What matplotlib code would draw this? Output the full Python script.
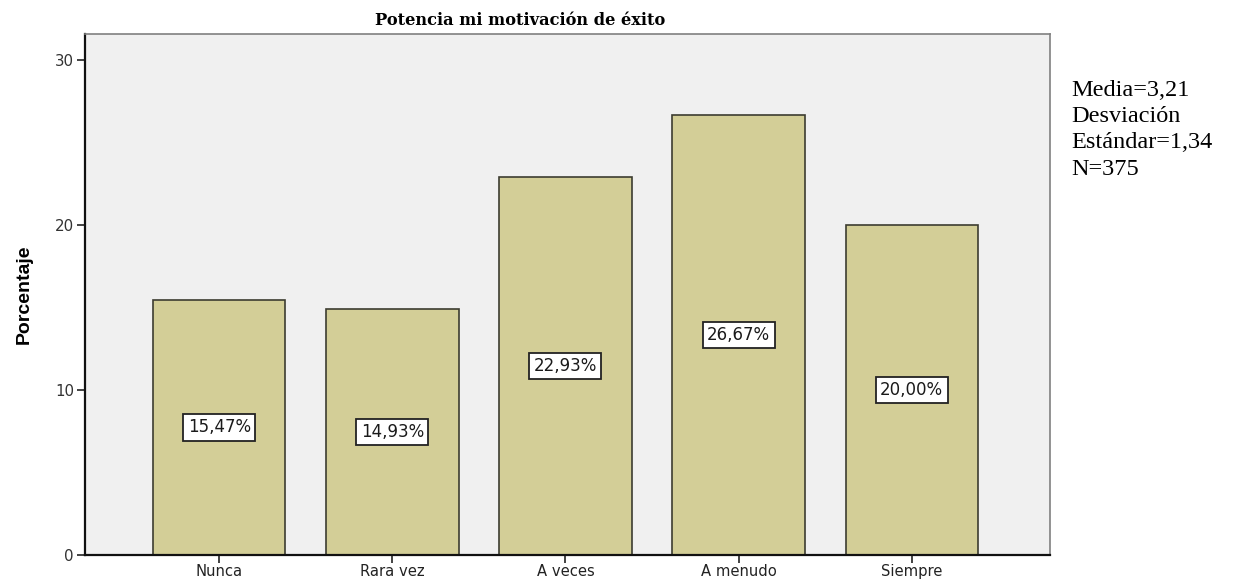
import matplotlib
matplotlib.use("Agg")
import matplotlib.pyplot as plt

categories = ["Nunca", "Rara vez", "A veces", "A menudo", "Siempre"]
percentages = [15.47, 14.93, 22.93, 26.67, 20.00]
yticks = [0, 10, 20, 30]
title = "Potencia mi motivación de éxito"
stats_lines = ["Media=3,21", "Desviación", "Estándar=1,34", "N=375"]

fig = plt.figure(figsize=(12.34, 5.8), dpi=100)
ax = fig.add_axes([0.0689, 0.0431, 0.7822, 0.8983])
ax.set_facecolor("#F0F0F0")

x = list(range(len(categories)))
ax.bar(x, percentages, width=0.765, color="#D3CE97", edgecolor="#3C3C30", linewidth=1.2, zorder=2)

for xi, v in zip(x, percentages):
    ax.text(xi, v / 2, f"{v:.2f}%".replace(".", ","), ha="center", va="center",
            fontsize=12, family="DejaVu Sans", color="#1a1a1a", zorder=3,
            bbox=dict(boxstyle="square,pad=0.26", facecolor="white", edgecolor="#222222", linewidth=1.3))

ax.set_xlim(-0.775, 4.8)
ax.set_ylim(0, 31.58)
ax.set_yticks(yticks)
ax.set_xticks(x)
ax.set_xticklabels(categories, family="DejaVu Sans", fontsize=10.6, color="#222222")
ax.set_yticklabels([str(t) for t in yticks], family="DejaVu Sans", fontsize=10.8, color="#333333")
ax.tick_params(axis="x", length=6, width=1.2, color="#222222", pad=0.5)
ax.tick_params(axis="y", length=6, width=1.2, color="#222222", pad=2)

for side in ("left", "bottom"):
    ax.spines[side].set_color("#111111")
    ax.spines[side].set_linewidth(1.6)
for side in ("top", "right"):
    ax.spines[side].set_color("#808080")
    ax.spines[side].set_linewidth(1.2)

ax.set_ylabel("Porcentaje", family="Liberation Sans", fontsize=14, fontweight="bold")
ax.yaxis.set_label_coords(-0.054, 0.5)

fig.text(0.4214, 0.9655, title, ha="center", va="center", family="DejaVu Serif",
         fontsize=11.7, fontweight="bold")

for i, line in enumerate(stats_lines):
    fig.text(1071 / 1234, 1 - (90 + i * 26.5) / 580, line, ha="left", va="center",
             family="Liberation Serif", fontsize=17.5)

fig.savefig("out.png", dpi=100)
